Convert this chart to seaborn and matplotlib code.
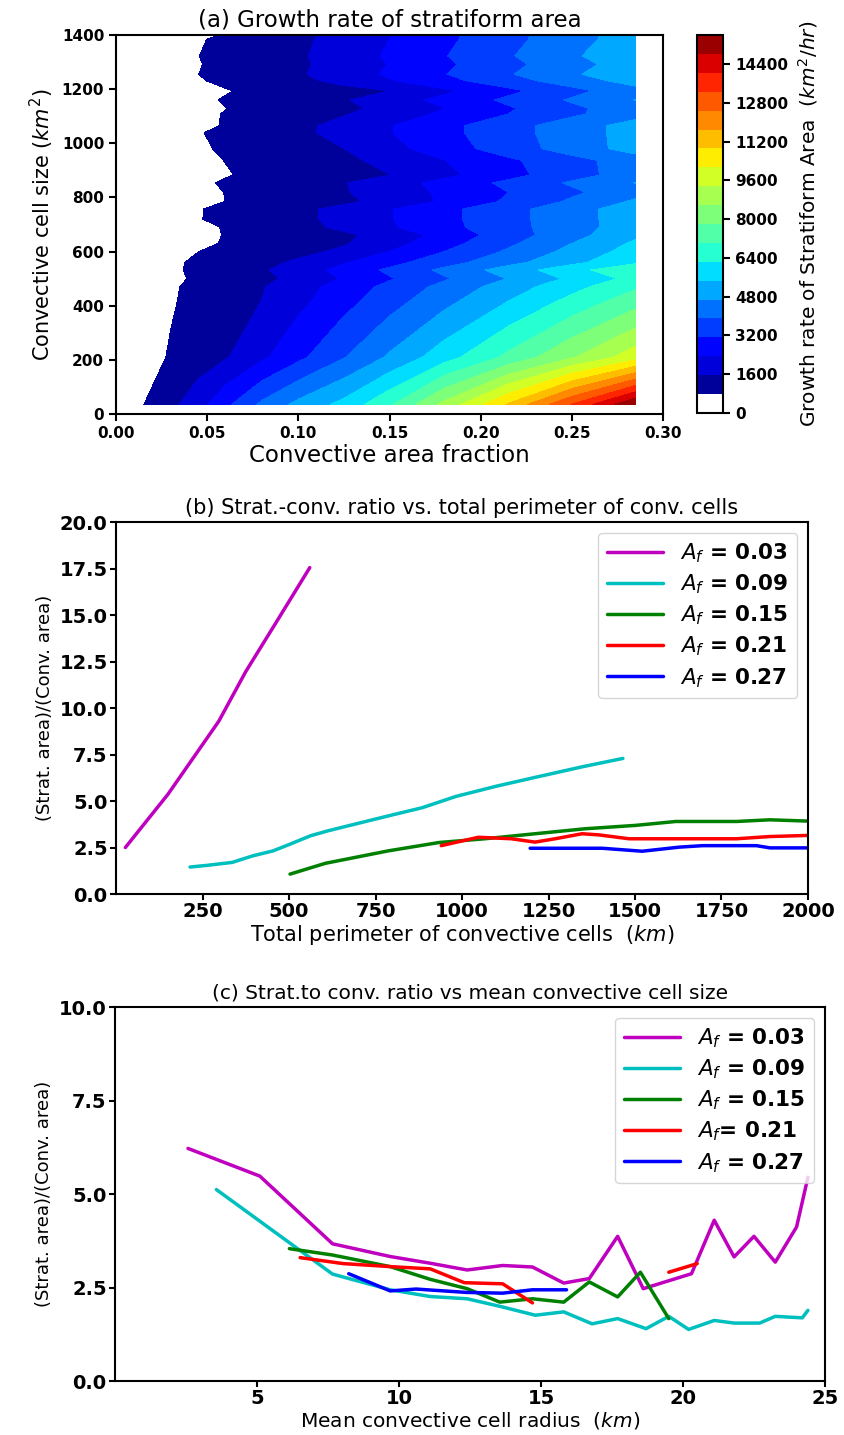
import numpy as np
import pandas as pd
import matplotlib
matplotlib.use("Agg")
import matplotlib.pyplot as plt
from matplotlib.colors import ListedColormap
import seaborn as sns

# ---------------- (a) growth rate of stratiform area ----------------
area_fraction = [0.015, 0.03, 0.045, 0.06, 0.08, 0.10, 0.125, 0.15, 0.18, 0.215, 0.25, 0.285]
cell_size = [35, 210, 415, 470, 500, 532, 560, 600, 630, 661, 690, 720, 757, 785, 819,
             854, 883, 937, 980, 1039, 1065, 1108, 1129, 1160, 1194, 1231, 1255, 1292,
             1323, 1385, 1400]
# km2/hr, one row per cell size, one column per area fraction
growth_rate = [
    [770, 1340, 2030, 2930, 4060, 4900, 5700, 6900, 8800, 11000, 13300, 15600],
    [500, 840, 1160, 1490, 2190, 2930, 3860, 4790, 5900, 7200, 8500, 9800],
    [470, 720, 970, 1220, 1570, 2140, 2860, 3590, 4460, 5470, 6490, 7500],
    [455, 700, 940, 1190, 1510, 2010, 2670, 3330, 4130, 5050, 5980, 6900],
    [430, 650, 870, 1090, 1380, 1770, 2410, 3050, 3810, 4710, 5610, 6500],
    [430, 670, 910, 1140, 1460, 1920, 2600, 3270, 4080, 5020, 5960, 6900],
    [465, 670, 880, 1080, 1360, 1680, 2280, 2870, 3590, 4430, 5260, 6100],
    [460, 620, 775, 940, 1150, 1360, 1710, 2350, 3120, 4010, 4910, 5800],
    [360, 510, 670, 820, 1030, 1230, 1490, 2040, 2830, 3750, 4680, 5600],
    [360, 510, 650, 800, 990, 1190, 1430, 1850, 2620, 3510, 4410, 5300],
    [250, 440, 630, 820, 1080, 1330, 1710, 2240, 2870, 3620, 4360, 5100],
    [400, 580, 750, 920, 1160, 1390, 1770, 2290, 2910, 3640, 4370, 5100],
    [400, 570, 745, 920, 1150, 1390, 1770, 2290, 2910, 3640, 4370, 5100],
    [350, 490, 640, 785, 980, 1170, 1420, 1780, 2450, 3240, 4020, 4800],
    [290, 450, 620, 790, 1010, 1230, 1500, 1930, 2480, 3120, 3760, 4400],
    [370, 520, 680, 840, 1050, 1260, 1520, 1980, 2590, 3290, 4000, 4700],
    [340, 480, 610, 740, 920, 1100, 1330, 1550, 2150, 2870, 3590, 4300],
    [360, 510, 650, 790, 990, 1180, 1420, 1750, 2320, 2980, 3640, 4300],
    [370, 530, 690, 860, 1070, 1290, 1555, 2100, 2740, 3500, 4250, 5000],
    [380, 560, 740, 920, 1160, 1400, 1800, 2300, 2900, 3600, 4300, 5000],
    [200, 410, 620, 830, 1100, 1380, 1800, 2300, 2900, 3600, 4300, 5000],
    [320, 480, 640, 810, 1020, 1240, 1510, 1930, 2480, 3120, 3760, 4400],
    [320, 470, 620, 770, 970, 1160, 1410, 1760, 2340, 3030, 3720, 4400],
    [360, 510, 670, 820, 1030, 1240, 1500, 1950, 2560, 3270, 3990, 4700],
    [340, 470, 610, 740, 930, 1110, 1330, 1555, 2190, 2930, 3660, 4400],
    [370, 550, 730, 900, 1140, 1380, 1760, 2270, 2880, 3580, 4290, 5000],
    [390, 580, 775, 960, 1220, 1470, 1940, 2460, 3090, 3830, 4560, 5300],
    [370, 560, 750, 940, 1190, 1440, 1860, 2370, 2980, 3680, 4390, 5100],
    [390, 580, 770, 960, 1210, 1460, 1920, 2450, 3080, 3820, 4560, 5300],
    [350, 540, 720, 910, 1160, 1410, 1830, 2340, 2950, 3670, 4380, 5100],
    [200, 410, 620, 830, 1100, 1380, 1810, 2320, 2940, 3660, 4380, 5100],
]
niveles = np.linspace(0, 15600, 21)
cbar_ticks = [0, 1600, 3200, 4800, 6400, 8000, 9600, 11200, 12800, 14400]

# ---------------- (b) ratio vs total perimeter ----------------
perim_003 = [27, 150, 297, 375, 464, 560]
ratio_b_003 = [2.5, 5.36, 9.29, 11.96, 14.64, 17.55]
perim_009 = [214, 268, 336, 395, 454, 503, 562, 611, 689, 787, 885, 983, 1100, 1230, 1350, 1465]
ratio_b_009 = [1.45, 1.55, 1.70, 2.05, 2.32, 2.68, 3.13, 3.39, 3.75, 4.20, 4.64, 5.25, 5.8, 6.35, 6.85, 7.29]
perim_015 = [503, 605, 700, 787, 934, 1066, 1211, 1357, 1502, 1618, 1793, 1890, 2000]
ratio_b_015 = [1.07, 1.65, 2.0, 2.32, 2.77, 2.97, 3.24, 3.51, 3.69, 3.90, 3.90, 3.99, 3.92]
perim_021 = [940, 1047, 1085, 1143, 1211, 1269, 1347, 1395, 1483, 1599, 1793, 1890, 2000]
ratio_b_021 = [2.60, 3.05, 3.02, 2.97, 2.79, 2.97, 3.24, 3.18, 2.97, 2.97, 2.97, 3.09, 3.15]
perim_027 = [1197, 1405, 1521, 1628, 1696, 1851, 1890, 2000]
ratio_b_027 = [2.46, 2.46, 2.30, 2.52, 2.60, 2.60, 2.48, 2.48]

# ---------------- (c) ratio vs mean cell radius ----------------
radius_003 = [2.57, 5.1, 7.66, 9.69, 11.1, 12.4, 13.65, 14.7, 15.8, 16.7, 17.7, 18.6, 20.3,
              21.1, 21.8, 22.5, 23.25, 24.0, 24.4]
ratio_c_003 = [6.22, 5.48, 3.67, 3.33, 3.15, 2.97, 3.09, 3.05, 2.62, 2.74, 3.87, 2.47, 2.87,
               4.30, 3.32, 3.87, 3.18, 4.12, 5.45]
radius_009 = [3.57, 7.66, 9.69, 11.1, 12.4, 13.65, 14.8, 15.8, 16.8, 17.7, 18.7, 19.5, 20.2,
              21.1, 21.8, 22.7, 23.25, 24.2, 24.4]
ratio_c_009 = [5.12, 2.86, 2.44, 2.26, 2.2, 1.98, 1.76, 1.85, 1.53, 1.67, 1.40, 1.73, 1.38,
               1.62, 1.55, 1.55, 1.73, 1.69, 1.89]
radius_015 = [6.14, 7.66, 9.69, 11.1, 12.4, 13.55, 14.7, 15.8, 16.7, 17.7, 18.5, 19.5]
ratio_c_015 = [3.54, 3.37, 3.06, 2.72, 2.47, 2.11, 2.2, 2.11, 2.65, 2.25, 2.91, 1.67]
radius_021 = [6.52, 8.04, 9.69, 11.1, 12.3, 13.65, 14.7, 19.5, 20.5]
ratio_c_021 = [3.30, 3.14, 3.06, 3.0, 2.63, 2.60, 2.09, 2.91, 3.14]
tramo_021 = [0, 0, 0, 0, 0, 0, 0, 1, 1]
radius_027 = [8.23, 9.69, 10.6, 12.37, 13.65, 14.7, 15.9]
ratio_c_027 = [2.87, 2.41, 2.46, 2.37, 2.35, 2.44, 2.44]

etiquetas_b = ["$A_f$ = 0.03", "$A_f$ = 0.09", "$A_f$ = 0.15", "$A_f$ = 0.21", "$A_f$ = 0.27"]
etiquetas_c = ["$A_f$ = 0.03", "$A_f$ = 0.09", "$A_f$ = 0.15", "$A_f$= 0.21", "$A_f$ = 0.27"]
cores = ["m", "c", "g", "r", "b"]


def tabla(series, etiquetas):
    partes = []
    for (xs, ys, tr), lab in zip(series, etiquetas):
        partes.append(pd.DataFrame({"x": xs, "y": ys, "Af": lab,
                                    "tramo": tr if tr is not None else [0] * len(xs)}))
    return pd.concat(partes, ignore_index=True)


dados_b = tabla([(perim_003, ratio_b_003, None), (perim_009, ratio_b_009, None),
                 (perim_015, ratio_b_015, None), (perim_021, ratio_b_021, None),
                 (perim_027, ratio_b_027, None)], etiquetas_b)
dados_c = tabla([(radius_003, ratio_c_003, None), (radius_009, ratio_c_009, None),
                 (radius_015, ratio_c_015, None), (radius_021, ratio_c_021, tramo_021),
                 (radius_027, ratio_c_027, None)], etiquetas_c)

sns.set_style("ticks", {"axes.edgecolor": "black", "xtick.color": "black",
                        "ytick.color": "black", "axes.linewidth": 1.5,
                        "text.color": "black", "axes.labelcolor": "black"})
plt.rcParams["font.family"] = ["DejaVu Sans"]
plt.rcParams["axes.linewidth"] = 1.5
plt.rcParams["text.color"] = "black"
plt.rcParams["axes.labelcolor"] = "black"

fig = plt.figure(figsize=(8.45, 14.35), dpi=100)

# ---- painel (a)
ax1 = fig.add_axes([0.1373, 0.7115, 0.6473, 0.2641])
cax = fig.add_axes([0.8249, 0.7122, 0.0308, 0.2634])
jet = plt.get_cmap("jet")
cmap = ListedColormap(["white"] + [jet((i + 0.5) / 19) for i in range(19)])
cs = ax1.contourf(area_fraction, cell_size, growth_rate, levels=niveles, cmap=cmap)
ax1.set_xlim(0, 0.30)
ax1.set_ylim(0, 1400)
ax1.set_xticks([0.0, 0.05, 0.10, 0.15, 0.20, 0.25, 0.30])
ax1.set_xticklabels(["0.00", "0.05", "0.10", "0.15", "0.20", "0.25", "0.30"])
ax1.set_yticks(range(0, 1401, 200))
ax1.tick_params(labelsize=11, width=1.5, length=5)
ax1.set_title("(a) Growth rate of stratiform area", fontsize=16.5)
ax1.set_xlabel("Convective area fraction", fontsize=16.5, labelpad=2)
ax1.set_ylabel("Convective cell size ($km^2$)", fontsize=15)
cb = fig.colorbar(cs, cax=cax, ticks=cbar_ticks)
cb.outline.set_linewidth(1.5)
cb.ax.tick_params(labelsize=11, width=1.5, length=5)
cb.set_label("Growth rate of Stratiform Area  ($km^2/hr$)", fontsize=14.5, labelpad=6)
for t in cb.ax.get_yticklabels():
    t.set_fontweight("bold")

# ---- painel (b)
ax2 = fig.add_axes([0.1373, 0.377, 0.8189, 0.2592])
sns.lineplot(data=dados_b, x="x", y="y", hue="Af", hue_order=etiquetas_b,
             palette=dict(zip(etiquetas_b, cores)), estimator=None, sort=False,
             lw=2.5, ax=ax2)
ax2.set_xlim(0, 2000)
ax2.set_ylim(0, 20)
ax2.set_xticks(range(250, 2001, 250))
ax2.set_yticks(np.arange(0, 20.1, 2.5))
ax2.set_title("(b) Strat.-conv. ratio vs. total perimeter of conv. cells", fontsize=15)
ax2.set_xlabel("Total perimeter of convective cells  ($km$)", fontsize=15, labelpad=1)
ax2.set_ylabel("(Strat. area)/(Conv. area)", fontsize=13)
sns.move_legend(ax2, "upper right", title=None, prop={"weight": "bold", "size": 15.5},
                handlelength=2.6, labelspacing=0.35)

# ---- painel (c)
ax3 = fig.add_axes([0.1361, 0.0376, 0.8402, 0.2606])
sns.lineplot(data=dados_c, x="x", y="y", hue="Af", hue_order=etiquetas_c,
             palette=dict(zip(etiquetas_c, cores)), units="tramo", estimator=None,
             sort=False, lw=2.5, ax=ax3)
ax3.set_xlim(0, 25)
ax3.set_ylim(0, 10)
ax3.set_xticks([5, 10, 15, 20, 25])
ax3.set_yticks([0, 2.5, 5, 7.5, 10])
ax3.set_yticklabels(["0.0", "2.5", "5.0", "7.5", "10.0"])
ax3.set_title("(c) Strat.to conv. ratio vs mean convective cell size", fontsize=14.5)
ax3.set_xlabel("Mean convective cell radius  ($km$)", fontsize=14.5, labelpad=1)
ax3.set_ylabel("(Strat. area)/(Conv. area)", fontsize=13)
sns.move_legend(ax3, "upper right", title=None, prop={"weight": "bold", "size": 15.5},
                handlelength=2.6, labelspacing=0.35)

for ax in (ax2, ax3):
    ax.tick_params(labelsize=14, width=1.5, length=4, pad=2)
    for s in ax.spines.values():
        s.set_linewidth(1.5)
for ax in (ax1, ax2, ax3):
    for t in ax.get_xticklabels() + ax.get_yticklabels():
        t.set_fontweight("bold")

fig.savefig("out.png", dpi=100)
